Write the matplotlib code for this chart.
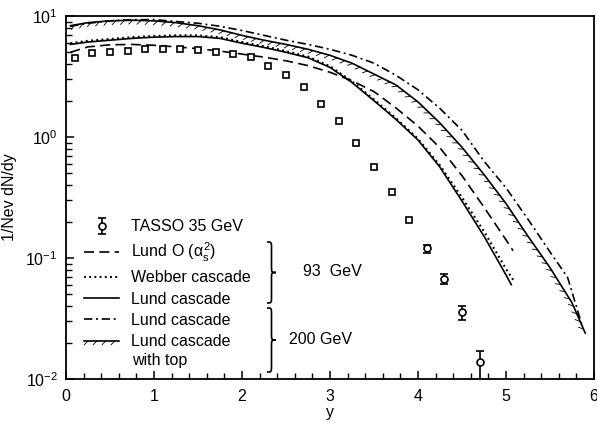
import matplotlib
matplotlib.use("Agg")
import matplotlib.pyplot as plt
import matplotlib.patheffects as pe
from matplotlib.path import Path
from matplotlib.patches import PathPatch
from matplotlib.ticker import FixedLocator, MultipleLocator, LogLocator, NullFormatter
import numpy as np

plt.rcParams['font.family'] = ['Liberation Sans', 'DejaVu Sans']
plt.rcParams['mathtext.fontset'] = 'custom'
plt.rcParams['mathtext.rm'] = 'Liberation Sans'
plt.rcParams['mathtext.it'] = 'Liberation Sans'

# ---------------- data ----------------
# TASSO 35 GeV data
tasso_y = [0.1, 0.3, 0.5, 0.7, 0.9, 1.1, 1.3, 1.5, 1.7, 1.9, 2.1, 2.3,
           2.5, 2.7, 2.9, 3.1, 3.3, 3.5, 3.7, 3.9, 4.1, 4.3, 4.5, 4.7]
tasso_val = [4.50, 4.99, 5.05, 5.12, 5.31, 5.38, 5.38, 5.28, 5.05, 4.88, 4.55, 3.87,
             3.24, 2.60, 1.86, 1.36, 0.90, 0.568, 0.354, 0.208, 0.120, 0.0673, 0.0355, 0.0137]
tasso_err_lo = [0.009, 0.0065, 0.0045, 0.0045]   # last four points
tasso_err_hi = [0.009, 0.0068, 0.0048, 0.0032]

# model curves: rapidity grid and log10(1/Nev dN/dy)
y_grid = [0.05, 0.25, 0.5, 0.75, 1.0, 1.25, 1.5, 1.75, 2.0, 2.25, 2.5, 2.75,
          3.0, 3.25, 3.5, 3.75, 4.0, 4.25, 4.5, 4.75, 5.0]

lundO93_y = y_grid + [5.08]
lundO93_log = [0.70, 0.745, 0.762, 0.765, 0.758, 0.745, 0.73, 0.71, 0.685, 0.66, 0.63, 0.59,
               0.535, 0.465, 0.375, 0.24, 0.09, -0.09, -0.32, -0.58, -0.85, -0.94]

webber93_y = y_grid + [5.09]
webber93_log = [0.775, 0.795, 0.81, 0.825, 0.835, 0.84, 0.84, 0.825, 0.785, 0.75, 0.71, 0.665,
                0.585, 0.46, 0.31, 0.155, -0.015, -0.235, -0.50, -0.78, -1.09, -1.19]

lund93_y = y_grid + [5.06]
lund93_log = [0.765, 0.785, 0.80, 0.815, 0.825, 0.83, 0.83, 0.815, 0.775, 0.74, 0.70, 0.655,
              0.575, 0.45, 0.30, 0.145, -0.025, -0.25, -0.53, -0.82, -1.14, -1.22]

lund200_y = y_grid + [5.25, 5.5, 5.7, 5.87]
lund200_log = [0.915, 0.94, 0.96, 0.97, 0.97, 0.955, 0.94, 0.915, 0.88, 0.84, 0.80, 0.765,
               0.725, 0.675, 0.61, 0.51, 0.39, 0.235, 0.055, -0.20, -0.42, -0.68, -0.95, -1.16, -1.57]

lundtop200_y = y_grid + [5.25, 5.5, 5.75, 5.9]
lundtop200_log = [0.92, 0.945, 0.96, 0.965, 0.96, 0.945, 0.92, 0.885, 0.84, 0.80, 0.765, 0.725,
                  0.675, 0.61, 0.52, 0.43, 0.29, 0.115, -0.085, -0.31, -0.55, -0.82, -1.08, -1.37, -1.62]

x_ticks = [0, 1, 2, 3, 4, 5, 6]
y_ticks = [0.01, 0.1, 1, 10]
y_ticklabels = ["10$^{-2}$", "10$^{-1}$", "10$^{0}$", "10$^{1}$"]

# ---------------- figure ----------------
fig = plt.figure(figsize=(5.97, 4.26), dpi=100)
ax = fig.add_axes([66 / 597, 1 - 379 / 426, 528 / 597, 363 / 426])
ax.set_yscale('log')
ax.set_xlim(0, 6)
ax.set_ylim(0.01, 10)

lw = 1.2
k = 'black'
to_val = lambda a: 10 ** np.asarray(a)

h_o, = ax.plot(lundO93_y, to_val(lundO93_log), color=k, lw=lw, dashes=(6, 3.2))
h_w, = ax.plot(webber93_y, to_val(webber93_log), color=k, lw=1.5, dashes=(0.9, 1.6))
h_l, = ax.plot(lund93_y, to_val(lund93_log), color=k, lw=lw)
h_d, = ax.plot(lund200_y, to_val(lund200_log), color=k, lw=lw, dashes=(5, 2.2, 1.2, 2.2))
h_t, = ax.plot(lundtop200_y, to_val(lundtop200_log), color=k, lw=lw,
               path_effects=[pe.withTickedStroke(angle=-135, spacing=6, length=0.65, linewidth=0.6)])

n_err = len(tasso_err_lo)
ax.plot(tasso_y[:-n_err], tasso_val[:-n_err], ls='none', marker='s', ms=5,
        mfc='white', mec=k, mew=1.2)
h_e = ax.errorbar(tasso_y[-n_err:], tasso_val[-n_err:], yerr=[tasso_err_lo, tasso_err_hi],
                  fmt='o', ms=5, mfc='white', mec=k, mew=1.2, ecolor=k, elinewidth=1.2,
                  capsize=3, capthick=1.2)

# axes styling
for s in ax.spines.values():
    s.set_linewidth(1.3)
ax.xaxis.set_major_locator(FixedLocator(x_ticks))
ax.xaxis.set_minor_locator(MultipleLocator(0.2))
ax.set_yticks(y_ticks)
ax.set_yticklabels(y_ticklabels)
ax.yaxis.set_minor_locator(LogLocator(base=10, subs=np.arange(2, 10)))
ax.yaxis.set_minor_formatter(NullFormatter())
ax.tick_params(which='major', direction='in', length=6, width=1.1, labelsize=11.5,
               top=False, right=False)
ax.tick_params(which='minor', direction='in', length=4, width=1.0, top=False, right=False)
ax.tick_params(axis='x', pad=7)
ax.tick_params(axis='y', pad=6)

ax.set_xlabel('y', fontsize=11.5, labelpad=1)
ax.set_ylabel('1/Nev dN/dy', fontsize=11.5, labelpad=6)

# legend
handles = [h_e, h_o, h_w, h_l, h_d, h_t]
labels = ['TASSO 35 GeV', r'Lund O ($\alpha_s^2$)', 'Webber cascade', 'Lund cascade',
          'Lund cascade', 'Lund cascade']
leg = ax.legend(handles, labels, loc='upper left', bbox_to_anchor=(0.034, 0.44),
                frameon=False, fontsize=11.5, handlelength=2.2, handletextpad=0.75,
                labelspacing=0.4, borderpad=0.0, borderaxespad=0.0)
ax.text(132 / 597, 1 - 361 / 426, 'with top', transform=fig.transFigure,
        fontsize=11.5, va='center', ha='left')


def brace(x0, y0, y1, w):
    ym = 0.5 * (y0 + y1)
    xm = x0 + w / 2
    r = min(w, (y1 - y0) * 0.1)
    verts = [(x0, y1), (xm, y1), (xm, y1), (xm, y1 - r),
             (xm, ym + r),
             (xm, ym), (xm, ym), (x0 + w, ym),
             (xm, ym), (xm, ym), (xm, ym - r),
             (xm, y0 + r),
             (xm, y0), (xm, y0), (x0, y0)]
    codes = [Path.MOVETO, Path.CURVE4, Path.CURVE4, Path.CURVE4,
             Path.LINETO,
             Path.CURVE4, Path.CURVE4, Path.CURVE4,
             Path.CURVE4, Path.CURVE4, Path.CURVE4,
             Path.LINETO,
             Path.CURVE4, Path.CURVE4, Path.CURVE4]
    p = PathPatch(Path(verts, codes), transform=fig.transFigure, fill=False,
                  lw=1.2, edgecolor=k)
    fig.add_artist(p)


def px(xp, yp):
    return xp / 597, 1 - yp / 426


bx, by1 = px(267, 242)
_, by0 = px(267, 303)
brace(bx, by0, by1, 9 / 597)
bx, by1 = px(267, 308)
_, by0 = px(267, 372)
brace(bx, by0, by1, 9 / 597)
fig.text(*px(303, 272), '93  GeV', fontsize=11.5, va='center', ha='left')
fig.text(*px(289, 340), '200 GeV', fontsize=11.5, va='center', ha='left')

fig.savefig('out.png', dpi=100)
